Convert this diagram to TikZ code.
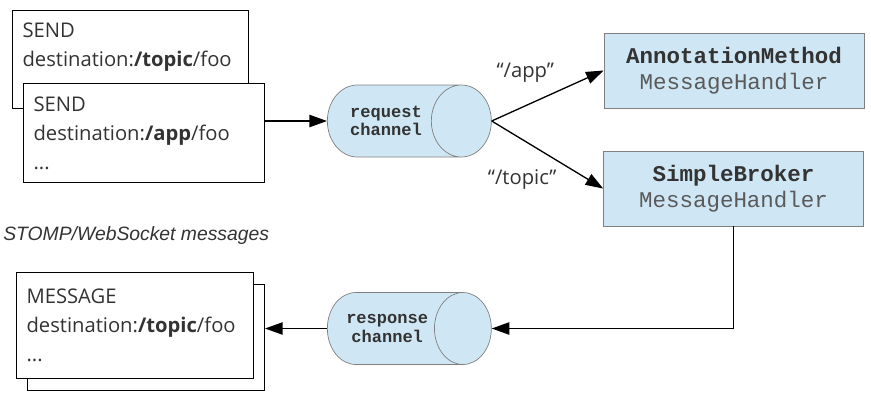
\documentclass[tikz,border=0pt]{standalone}
\usepackage{fontspec}
\setmainfont{Open Sans}
\setmonofont{Liberation Mono}
\newfontfamily\notefont{Liberation Sans}
\usepackage{tikz}
\usetikzlibrary{arrows.meta, shapes.geometric}
\tikzset{>={Triangle[length = 10pt, width = 7pt]}}
\definecolor{chanblue}{RGB}{207, 231, 244}
\definecolor{chanedge}{RGB}{128, 128, 128}
\definecolor{inkgray}{RGB}{51, 51, 51}
\definecolor{handgray}{RGB}{90, 90, 90}

\tikzset{
	framebox/.style = {draw, fill = white, line width = 0.6pt, anchor = north west, align = left, inner xsep = 0.2cm, text = inkgray, font = \fontsize{11.5}{16.5}\selectfont},
	channel/.style = {cylinder, draw = chanedge, fill = chanblue, shape aspect = 1.44, minimum height = 3.28cm, minimum width = 1.44cm, align = center, text = inkgray, font = \ttfamily\bfseries\fontsize{9.7}{10.5}\selectfont},
	handler/.style = {rectangle, draw = chanedge, fill = chanblue, minimum width = 5.2cm, minimum height = 1.5cm, align = center, text = inkgray, font = \ttfamily\fontsize{12.8}{15}\selectfont},
	flow/.style = {->, line width = 0.75pt}
}

\begin{document}
\begin{tikzpicture}
\useasboundingbox (0, 0) rectangle (17.42, -8.02);

% outgoing client frames
\node[framebox, minimum width = 4.72cm, minimum height = 1.96cm, text width = 4.32cm] (sendback) at (0.24, -0.2) {
SEND \\
destination:\textbf{/topic}/foo \\
...
};
\node[framebox, minimum width = 4.82cm, minimum height = 1.98cm, text width = 4.42cm] (sendfront) at (0.46, -1.66) {
SEND \\
destination:\textbf{/app}/foo \\
...
};

\node[anchor = west, inner xsep = 0pt, text = inkgray, font = \notefont\itshape\fontsize{11}{13}\selectfont] (stomp) at (0.06, -4.7) {STOMP/WebSocket messages};

% incoming client frames
\node[framebox, minimum width = 4.74cm, minimum height = 2.12cm] (msgback) at (0.54, -5.68) {};
\node[framebox, minimum width = 4.74cm, minimum height = 2.12cm, text width = 4.34cm] (msgfront) at (0.32, -5.44) {
MESSAGE \\
destination:\textbf{/topic}/foo \\
...
};

% channels
\node[channel, anchor = west] (reqch) at (6.54, -2.42) {request\\channel};
\node[channel, anchor = west] (respch) at (6.54, -6.57) {response\\channel};

% handlers
\node[handler] (annot) at (14.68, -1.41) {\textbf{AnnotationMethod}\\\textcolor{handgray}{MessageHandler}};
\node[handler] (broker) at (14.67, -3.77) {\textbf{SimpleBroker}\\\textcolor{handgray}{MessageHandler}};

\draw[flow] (sendfront.east |- reqch.west) -- (reqch.west);
\draw[flow] (reqch.east) -- node[pos = 0.3, above = 0.34cm, text = inkgray, font = \fontsize{11.5}{13}\selectfont] (applbl) {“/app”} (annot.west);
\draw[flow] (reqch.east) -- node[pos = 0.3, below = 0.44cm, xshift = -0.06cm, text = inkgray, font = \fontsize{11.5}{13}\selectfont] (topiclbl) {“/topic”} (broker.west);
\draw[flow] (broker.south) |- (respch.east);
\draw[flow] (respch.west) -- (msgback.east |- respch.west);

\end{tikzpicture}
\end{document}
